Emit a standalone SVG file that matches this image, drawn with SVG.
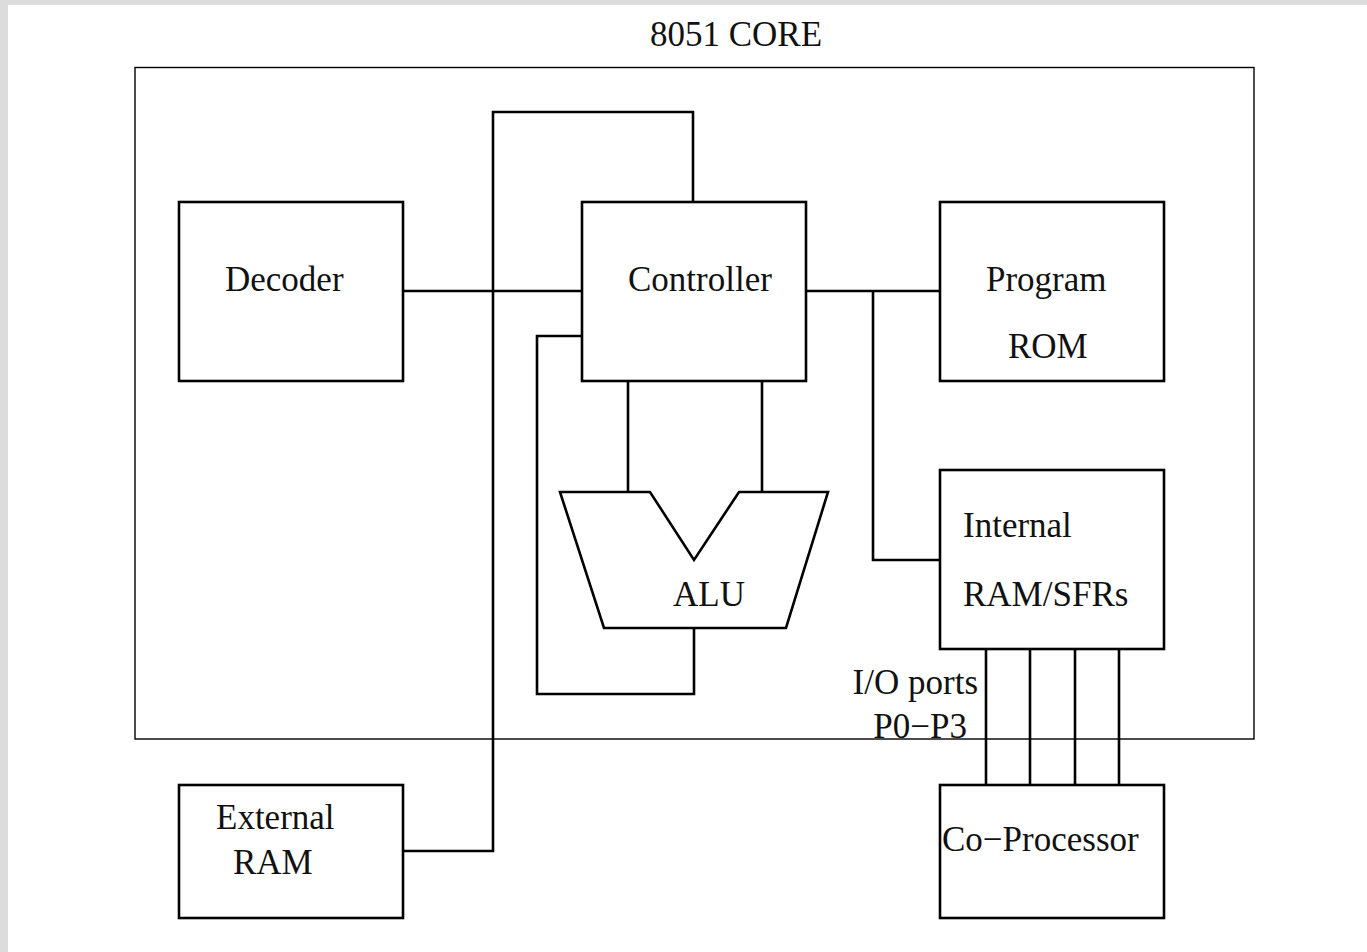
<svg xmlns="http://www.w3.org/2000/svg" width="1367" height="952" viewBox="0 0 1367 952">
<style>
.box{fill:#fff;stroke:#000;stroke-width:2.6}
.ln{fill:none;stroke:#000;stroke-width:2.6}
.thin{fill:none;stroke:#000;stroke-width:1.4}
text{font-family:"Liberation Serif","Times New Roman",serif;font-size:35px;fill:#111}
</style>
<rect x="0" y="0" width="1367" height="952" fill="#dcdcdc"/>
<rect x="8" y="5" width="1359" height="947" fill="#fff"/>
<g id="core">
<rect class="thin" x="135" y="67.5" width="1119" height="671.5"/>
<text x="650" y="46">8051 CORE</text>
</g>
<g id="connectors">
<polyline class="ln" points="403,291 582,291"/>
<polyline class="ln" points="403,851 493,851 493,112 693,112 693,202"/>
<polyline class="ln" points="806,291 940,291"/>
<polyline class="ln" points="873,291 873,560 940,560"/>
<polyline class="ln" points="582,336 537,336 537,694 694,694 694,628"/>
<polyline class="ln" points="628,381 628,492"/>
<polyline class="ln" points="762,381 762,492"/>
<line class="ln" x1="986" y1="649" x2="986" y2="785"/>
<line class="ln" x1="1030" y1="649" x2="1030" y2="785"/>
<line class="ln" x1="1075" y1="649" x2="1075" y2="785"/>
<line class="ln" x1="1119" y1="649" x2="1119" y2="785"/>
</g>
<g id="decoder">
<rect class="box" x="179" y="202" width="224" height="179"/>
<text x="225" y="291">Decoder</text>
</g>
<g id="controller">
<rect class="box" x="582" y="202" width="224" height="179"/>
<text x="628" y="291">Controller</text>
</g>
<g id="program-rom">
<rect class="box" x="940" y="202" width="224" height="179"/>
<text x="986" y="291">Program</text>
<text x="1008" y="358">ROM</text>
</g>
<g id="internal-ram">
<rect class="box" x="940" y="470" width="224" height="179"/>
<text x="963" y="537">Internal</text>
<text x="963" y="606">RAM/SFRs</text>
</g>
<g id="alu">
<polygon class="box" points="560,492 650,492 694,560 739,492 828,492 786,628 604,628"/>
<text x="673" y="606">ALU</text>
</g>
<g id="io-label">
<text x="978" y="694" text-anchor="end">I/O ports</text>
<text x="967" y="738" text-anchor="end">P0−P3</text>
</g>
<g id="external-ram">
<rect class="box" x="179" y="785" width="224" height="133"/>
<text x="216" y="829">External</text>
<text x="233" y="874">RAM</text>
</g>
<g id="coprocessor">
<rect class="box" x="940" y="785" width="224" height="133"/>
<text x="942" y="851">Co−Processor</text>
</g>
</svg>
